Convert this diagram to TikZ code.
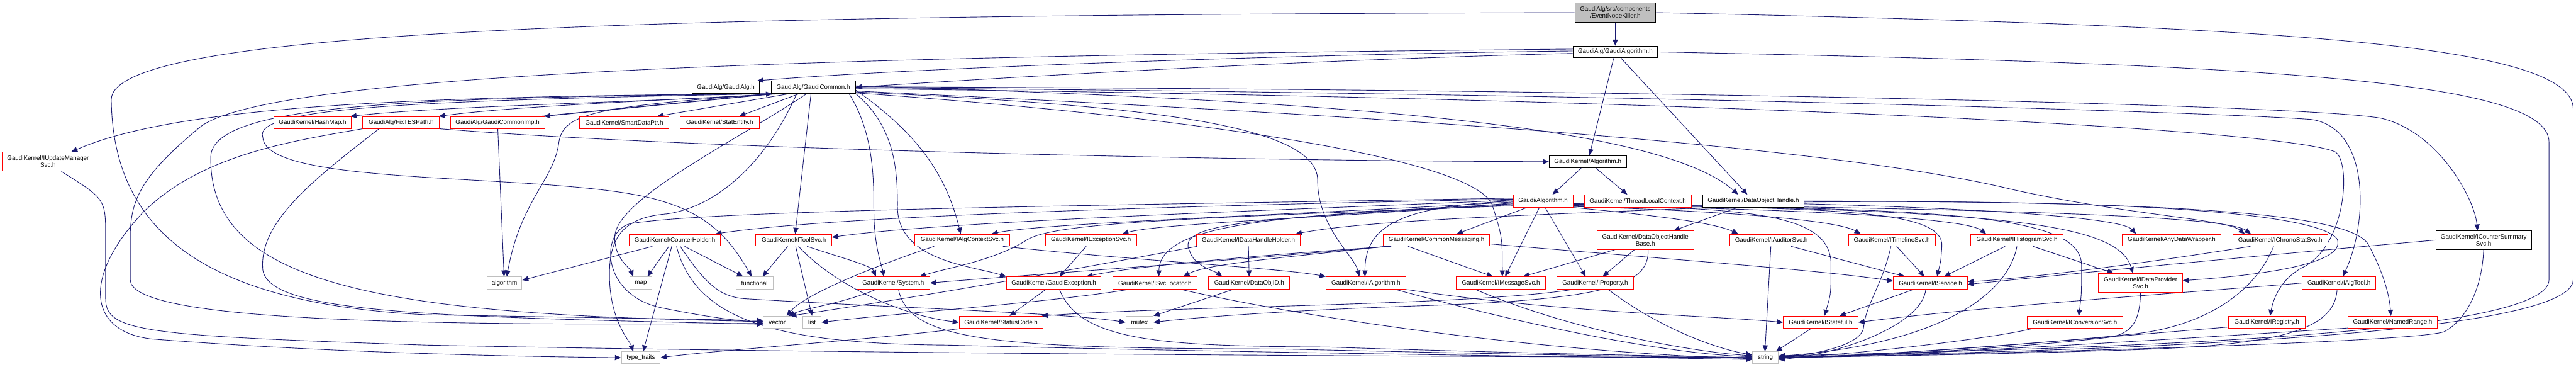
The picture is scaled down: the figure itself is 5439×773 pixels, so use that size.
\documentclass[tikz,border=0pt]{standalone}
\usepackage{fontspec}
\setmainfont{Liberation Sans}
\usetikzlibrary{arrows.meta}
\definecolor{navy}{RGB}{25,25,112}
\definecolor{boxgray}{RGB}{191,191,191}
\pgfdeclarelayer{bg}
\pgfsetlayers{bg,main}
\tikzset{
 nb/.style={draw, line width=1.3pt, fill=white, inner sep=0pt, align=center, font=\fontsize{13}{14.5}\selectfont},
 rb/.style={nb, draw=red},
 bb/.style={nb, draw=black},
 gb/.style={nb, draw=boxgray},
 edg/.style={draw=navy, line width=1.2pt, -{Triangle[length=13pt,width=11pt]}},
}
\newcommand{\bx}[7]{\node[#6, minimum width=#4pt, minimum height=#5pt] (#1) at (#2,#3) {#7};}
\begin{document}
\begin{tikzpicture}[x=1pt,y=-1pt]
\useasboundingbox (0,0) rectangle (5439,773);
\begin{pgfonlayer}{bg}
\fill[white] (0,0) rectangle (5439,773);
\end{pgfonlayer}
% nodes
\bx{enk}{3410.5}{26.5}{171}{41}{nb,fill=boxgray,draw=black}{GaudiAlg/src/components\\/EventNodeKiller.h}
\bx{galgo}{3410.5}{109.5}{179}{25}{bb}{GaudiAlg/GaudiAlgorithm.h}
\bx{galg}{1532.5}{184}{143}{26}{bb}{GaudiAlg/GaudiAlg.h}
\bx{gcommon}{1717}{184}{178}{26}{bb}{GaudiAlg/GaudiCommon.h}
\bx{updmgr}{101.5}{341}{193}{40}{rb}{GaudiKernel/IUpdateManager\\Svc.h}
\bx{hashmap}{660}{258.5}{164}{25}{rb}{GaudiKernel/HashMap.h}
\bx{fixtes}{847}{258.5}{162}{25}{rb}{GaudiAlg/FixTESPath.h}
\bx{gcimp}{1050.5}{258.5}{199}{25}{rb}{GaudiAlg/GaudiCommonImp.h}
\bx{smartdp}{1318}{258.5}{188}{25}{rb}{GaudiKernel/SmartDataPtr.h}
\bx{statent}{1519.5}{258.5}{167}{25}{rb}{GaudiKernel/StatEntity.h}
\bx{gkalgo}{3352.5}{341}{163}{26}{bb}{GaudiKernel/Algorithm.h}
\bx{ga2}{3258}{424}{126}{26}{rb}{Gaudi/Algorithm.h}
\bx{tlc}{3458}{424}{226}{26}{rb}{GaudiKernel/ThreadLocalContext.h}
\bx{doh}{3702}{424}{214}{26}{bb}{GaudiKernel/DataObjectHandle.h}
\bx{counterholder}{1425}{506.5}{192}{25}{rb}{GaudiKernel/CounterHolder.h}
\bx{itoolsvc}{1676}{506.5}{160}{25}{rb}{GaudiKernel/IToolSvc.h}
\bx{ialgctx}{2031.5}{506.5}{201}{25}{rb}{GaudiKernel/IAlgContextSvc.h}
\bx{iexcsvc}{2303.5}{506.5}{193}{25}{rb}{GaudiKernel/IExceptionSvc.h}
\bx{idhh}{2636}{506.5}{220}{25}{rb}{GaudiKernel/IDataHandleHolder.h}
\bx{commsg}{3033}{506.5}{224}{25}{rb}{GaudiKernel/CommonMessaging.h}
\bx{dohb}{3474}{506.5}{204}{39}{rb}{GaudiKernel/DataObjectHandle\\Base.h}
\bx{iaudsvc}{3740}{506.5}{176}{25}{rb}{GaudiKernel/IAuditorSvc.h}
\bx{itlsvc}{3994.5}{506.5}{183}{25}{rb}{GaudiKernel/ITimelineSvc.h}
\bx{ihistsvc}{4258.5}{506.5}{195}{25}{rb}{GaudiKernel/IHistogramSvc.h}
\bx{anydw}{4585}{506.5}{208}{25}{rb}{GaudiKernel/AnyDataWrapper.h}
\bx{ichrono}{4814.5}{506.5}{201}{25}{rb}{GaudiKernel/IChronoStatSvc.h}
\bx{icntsum}{5244}{506.5}{202}{39}{bb}{GaudiKernel/ICounterSummary\\Svc.h}
\bx{algorithm}{1065}{597}{74}{26}{gb}{algorithm}
\bx{map}{1353}{597}{46}{26}{gb}{map}
\bx{functional}{1593}{597}{78}{26}{gb}{functional}
\bx{system}{1886}{597}{154}{26}{rb}{GaudiKernel/System.h}
\bx{gexc}{2225}{597}{200}{26}{rb}{GaudiKernel/GaudiException.h}
\bx{isvcloc}{2438.5}{597}{179}{26}{rb}{GaudiKernel/ISvcLocator.h}
\bx{dataobjid}{2637.5}{597}{171}{26}{rb}{GaudiKernel/DataObjID.h}
\bx{ialgorithm}{2884}{597}{168}{26}{rb}{GaudiKernel/IAlgorithm.h}
\bx{imsgsvc}{3169}{597}{188}{26}{rb}{GaudiKernel/IMessageSvc.h}
\bx{iprop}{3368}{597}{162}{26}{rb}{GaudiKernel/IProperty.h}
\bx{iservice}{4076}{597}{156}{26}{rb}{GaudiKernel/IService.h}
\bx{idpsvc}{4519.5}{597}{177}{40}{rb}{GaudiKernel/IDataProvider\\Svc.h}
\bx{ialgtool}{4938.5}{597}{155}{26}{rb}{GaudiKernel/IAlgTool.h}
\bx{vector}{1641}{680}{58}{26}{gb}{vector}
\bx{list}{1714.5}{680}{39}{26}{gb}{list}
\bx{statuscode}{2113.5}{680}{177}{26}{rb}{GaudiKernel/StatusCode.h}
\bx{mutex}{2406}{680}{58}{26}{gb}{mutex}
\bx{istateful}{3844}{680}{158}{26}{rb}{GaudiKernel/IStateful.h}
\bx{iconvsvc}{4381}{680}{202}{26}{rb}{GaudiKernel/IConversionSvc.h}
\bx{iregistry}{4786}{680}{162}{26}{rb}{GaudiKernel/IRegistry.h}
\bx{namedrange}{5052}{680}{188}{26}{rb}{GaudiKernel/NamedRange.h}
\bx{typetraits}{1353}{754.5}{82}{25}{gb}{type\_traits}
\bx{string}{3727.5}{754.5}{55}{25}{gb}{string}
\begin{pgfonlayer}{bg}
% EventNodeKiller
\draw[edg] (enk) -- (galgo);
\draw[edg] (enk.east) .. controls (4800,55) and (5433,90) .. (5433,230) -- (5433,590) .. controls (5433,700) and (4600,738) .. ([yshift=2pt]string.east);
\draw[edg] (enk.west) .. controls (1400,32) and (235,60) .. (235,210) .. controls (238,480) and (420,640) .. (900,664) -- ([yshift=4pt]vector.west);
% GaudiAlgorithm
\draw[edg] ([yshift=2pt]galgo.west) .. controls (2700,115) and (1900,145) .. ([xshift=-6pt]galg.north east);
\draw[edg] ([yshift=-3pt]galgo.west) .. controls (2700,128) and (2100,165) .. (gcommon.east);
\draw[edg] (galgo) -- (gkalgo);
\draw[edg] (galgo) -- (doh);
\draw[edg] (galgo.east) .. controls (4800,135) and (5382,170) .. (5382,300) -- (5382,590) .. controls (5382,700) and (4600,732) .. ([yshift=4pt]string.east);
\draw[edg] ([yshift=6pt]galgo.west) .. controls (1800,118) and (560,150) .. (420,270) .. controls (300,370) and (275,420) .. (275,500) -- (275,590) .. controls (275,665) and (700,690) .. ([yshift=-2pt]vector.west);
% GaudiCommon
\draw[edg] ([xshift=22pt]gcommon.south west) .. controls (1400,215) and (950,222) .. ([xshift=-3pt]hashmap.north east);
\draw[edg] ([xshift=16pt]gcommon.south west) .. controls (1450,210) and (1100,222) .. ([xshift=-2pt]fixtes.north east);
\draw[edg] ([xshift=12pt]gcommon.south west) -- ([xshift=-2pt]gcimp.north east);
\draw[edg] ([xshift=-10pt]gcimp.north east) -- ([xshift=3pt]gcommon.south west);
\draw[edg] ([xshift=40pt]gcommon.south west) -- ([xshift=-25pt]smartdp.north east);
\draw[edg] ([xshift=60pt]gcommon.south west) -- ([xshift=-43pt]statent.north east);
\draw[edg] ([xshift=9pt]gcommon.south west) .. controls (900,203) and (380,220) .. ([xshift=49pt]updmgr.north);
\draw[edg] ([xshift=6pt]gcommon.south west) .. controls (1250,225) and (1190,240) .. (1180,300) .. controls (1170,380) and (1100,420) .. ([xshift=5pt]algorithm.north);
\draw[edg] ([xshift=76pt]gcommon.south west) .. controls (1550,300) and (1300,420) .. (1298,500) .. controls (1297,545) and (1330,565) .. ([xshift=-16pt]map.north);
\draw[edg] ([xshift=85pt]gcommon.south west) -- ([xshift=3pt]itoolsvc.north);
\draw[edg] ([xshift=55pt]gcommon.south west) .. controls (1600,380) and (1480,445) .. (1400,452) .. controls (1300,462) and (1285,520) .. (1287,590) .. controls (1290,680) and (1330,720) .. ([xshift=-16pt]typetraits.north);
\draw[edg] ([xshift=-14pt]gcommon.south east) .. controls (1845,280) and (1845,380) .. (1845,440) .. controls (1845,520) and (1862,560) .. ([xshift=-20pt]system.north);
\draw[edg] (gcommon.south east) .. controls (1894,270) and (1894,370) .. (1895,430) .. controls (1890,550) and (2050,560) .. (gexc.north west);
\draw[edg] ([yshift=-6pt]gcommon.east) .. controls (1950,290) and (2000,380) .. ([xshift=-3pt]ialgctx.north);
\draw[edg] ([yshift=3pt]gcommon.east) .. controls (2800,212) and (3500,260) .. ([xshift=-32pt]doh.north);
\draw[edg] ([yshift=1pt]gcommon.east) .. controls (3500,188) and (4900,222) .. (5030,250) .. controls (5150,280) and (5225,420) .. ([xshift=-13pt]icntsum.north);
\draw[edg] ([yshift=-1pt]gcommon.east) .. controls (3500,198) and (4700,238) .. (4880,252) .. controls (5005,270) and (5000,470) .. ([xshift=8pt]ialgtool.north);
\draw[edg] ([yshift=-3pt]gcommon.east) .. controls (3500,206) and (4800,268) .. (4930,320) .. controls (4965,340) and (4955,520) .. (4860,565) .. controls (4815,590) and (4800,630) .. ([xshift=7pt]iregistry.north);
\draw[edg] ([yshift=-8pt]gcommon.east) .. controls (2600,230) and (3800,290) .. (4250,400) .. controls (4500,455) and (4700,462) .. ([xshift=-75pt]ichrono.north);
\draw[edg] ([yshift=-10pt]gcommon.east) .. controls (2400,222) and (2782,260) .. (2782,380) .. controls (2782,480) and (2860,540) .. ([xshift=-14pt]ialgorithm.north);
\draw[edg] ([yshift=-12pt]gcommon.east) .. controls (2500,245) and (3100,330) .. (3150,430) .. controls (3172,500) .. ([xshift=3pt]imsgsvc.north);
\draw[edg] ([xshift=3pt]gcommon.south west) .. controls (900,212) and (530,225) .. (555,290) .. controls (560,400) and (1200,360) .. (1400,425) .. controls (1500,455) and (1545,510) .. ([xshift=-6pt]functional.north);
\draw[edg] ([xshift=5pt]gcommon.south west) .. controls (900,207) and (450,215) .. (445,330) .. controls (440,600) and (800,665) .. ([yshift=2pt]vector.west);
% FixTESPath
\draw[edg] (fixtes.south east) .. controls (1500,318) and (2700,340) .. (gkalgo.west);
\draw[edg] (fixtes.south west) .. controls (600,300) and (420,330) .. (300,450) .. controls (170,590) and (190,700) .. (320,715) .. controls (700,745) and (1100,752) .. (typetraits.west);
\draw[edg] ([xshift=35pt]fixtes.south west) .. controls (660,380) and (545,470) .. (555,570) .. controls (570,660) and (900,668) .. ([yshift=-4pt]vector.west);
% IUpdateManagerSvc
\draw[edg] ([xshift=28pt]updmgr.south) .. controls (223,420) .. (223,500) -- (223,630) .. controls (223,700) and (300,708) .. (900,728) .. controls (2000,750) and (3300,752) .. (string.west);
% GaudiCommonImp
\draw[edg] (gcimp) -- (algorithm);
% CounterHolder
\draw[edg] ([xshift=49pt]counterholder.south west) -- ([yshift=6pt]algorithm.east);
\draw[edg] ([xshift=84pt]counterholder.south west) -- ([xshift=14pt]map.north);
\draw[edg] ([xshift=90pt]counterholder.south west) -- ([xshift=5pt]typetraits.north);
\draw[edg] ([xshift=117pt]counterholder.south west) -- ([xshift=-24pt]functional.north);
\draw[edg] ([xshift=108pt]counterholder.south west) .. controls (1490,600) and (1520,625) .. (1570,630) .. controls (1900,650) and (2250,660) .. (mutex.west);
\draw[edg] ([xshift=100pt]counterholder.south west) .. controls (1470,680) and (1650,725) .. (2000,728) .. controls (2800,748) and (3400,752) .. ([yshift=-4pt]string.west);
% IToolSvc
\draw[edg] ([xshift=-13pt]itoolsvc.south) -- ([xshift=17pt]functional.north);
\draw[edg] ([xshift=4pt]itoolsvc.south) -- (list.north);
\draw[edg] ([xshift=10pt]itoolsvc.south) .. controls (1760,600) and (1900,665) .. (statuscode.west);
\draw[edg] ([xshift=28pt]itoolsvc.south) .. controls (1780,545) and (1840,560) .. ([xshift=41pt]system.north west);
% IAlgContextSvc
\draw[edg] ([xshift=42pt]ialgctx.south west) .. controls (1850,560) and (1700,620) .. ([xshift=20pt]vector.north);
\draw[edg] ([xshift=-15pt]ialgctx.south east) .. controls (2400,550) and (2700,565) .. (ialgorithm.north west);
% IExceptionSvc
\draw[edg] ([xshift=-10pt]iexcsvc.south) -- ([xshift=12pt]gexc.north);
% IDataHandleHolder
\draw[edg] (idhh.south) -- (dataobjid.north);
\draw[edg] ([xshift=2pt]idhh.south west) .. controls (2100,600) and (1850,640) .. ([xshift=-2pt]vector.north east);
% CommonMessaging
\draw[edg] ([xshift=-60pt]commsg.south) -- ([xshift=-17pt]imsgsvc.north);
\draw[edg] ([xshift=17pt]commsg.south west) .. controls (2700,535) and (2400,560) .. ([xshift=-32pt]gexc.north east);
\draw[edg] ([xshift=10pt]commsg.south west) .. controls (2600,550) and (2100,585) .. (system.east);
\draw[edg] ([xshift=5pt]commsg.south west) .. controls (2750,540) and (2550,555) .. ([xshift=-30pt]isvcloc.north east);
\draw[edg] ([yshift=-8pt]commsg.east) .. controls (3500,545) and (3850,570) .. ([yshift=4pt]iservice.west);
% Gaudi/Algorithm
\draw[edg] ([xshift=30pt]ga2.south west) -- ([xshift=-70pt]commsg.north east);
\draw[edg] (ga2.west) .. controls (2950,435) and (2882,480) .. ([xshift=-2pt]ialgorithm.north);
\draw[edg] ([xshift=56pt]ga2.south west) -- ([xshift=9pt]imsgsvc.north);
\draw[edg] ([xshift=68pt]ga2.south west) -- ([xshift=-20pt]iprop.north);
\draw[edg] (ga2.south east) .. controls (3500,455) and (3620,470) .. ([xshift=-70pt]iaudsvc.north);
\draw[edg] ([yshift=2pt]ga2.south east) .. controls (3650,445) and (3880,465) .. ([xshift=-66pt]itlsvc.north);
\draw[edg] ([yshift=4pt]ga2.south east) .. controls (3800,440) and (4150,460) .. ([xshift=-65pt]ihistsvc.north);
\draw[edg] ([yshift=5pt]ga2.south east) .. controls (3900,438) and (4105,445) .. (4100,520) .. controls (4098,550) .. ([xshift=14pt]iservice.north);
\draw[edg] ([yshift=6pt]ga2.south east) .. controls (3700,440) and (3868,450) .. (3866,560) .. controls (3866,620) .. ([xshift=8pt]istateful.north);
\draw[edg] ([yshift=7pt]ga2.south east) .. controls (4100,440) and (4395,450) .. (4395,560) .. controls (4395,620) .. ([xshift=8pt]iconvsvc.north);
\draw[edg] ([yshift=8pt]ga2.south east) .. controls (4200,440) and (4700,455) .. ([xshift=-62pt]ichrono.north);
\draw[edg] ([yshift=9pt]ga2.south east) .. controls (4200,445) and (4470,465) .. ([xshift=-16pt]idpsvc.north);
\draw[edg] ([yshift=2pt]ga2.west) .. controls (2800,440) and (2000,465) .. ([yshift=6pt]itoolsvc.east);
\draw[edg] ([yshift=4pt]ga2.west) .. controls (2700,430) and (1800,450) .. ([xshift=-11pt]counterholder.north east);
\draw[edg] ([yshift=-2pt]ga2.west) .. controls (2800,450) and (2200,470) .. ([xshift=-39pt]ialgctx.north east);
\draw[edg] ([yshift=-4pt]ga2.west) .. controls (2900,455) and (2450,470) .. ([xshift=-31pt]iexcsvc.north east);
\draw[edg] ([yshift=-6pt]ga2.west) .. controls (2700,455) and (2450,470) .. ([xshift=8pt]isvcloc.north);
\draw[edg] ([yshift=-8pt]ga2.west) .. controls (2650,460) and (2480,470) .. (2512,530) .. controls (2520,560) and (2570,575) .. ([xshift=-57pt]dataobjid.north);
\draw[edg] ([yshift=-10pt]ga2.west) .. controls (2500,460) and (2230,470) .. (2170,505) .. controls (2100,550) and (2000,565) .. ([xshift=-22pt]system.north east);
\draw[edg] ([yshift=6pt]ga2.west) .. controls (2400,432) and (1500,442) .. (1330,472) .. controls (1265,490) and (1270,625) .. (1400,650) .. controls (1500,670) and (1560,677) .. (vector.west);
% DataObjID, ISvcLocator, GaudiException, System, StatusCode
\draw[edg] ([xshift=52pt]dataobjid.south west) -- (mutex.north east);
\draw[edg] ([xshift=35pt]isvcloc.south west) .. controls (2200,640) and (1900,660) .. (list.east);
\draw[edg] ([xshift=-35pt]isvcloc.south east) .. controls (2800,680) and (3300,745) .. ([yshift=-2pt]string.west);
\draw[edg] ([xshift=-17pt]gexc.south) -- ([xshift=18pt]statuscode.north);
\draw[edg] ([xshift=12pt]gexc.south) .. controls (2280,720) and (2450,730) .. (2800,732) .. controls (3300,748) and (3600,752) .. (string.west);
\draw[edg] ([xshift=11pt]system.south) .. controls (1920,720) and (2100,735) .. (2700,736) .. controls (3300,750) and (3600,754) .. (string.west);
\draw[edg] ([xshift=41pt]system.south west) .. controls (1780,640) and (1700,650) .. ([xshift=-6pt]vector.north east);
\draw[edg] (statuscode.south west) .. controls (1800,720) and (1500,740) .. (typetraits.east);
% IAlgorithm, IMessageSvc, IProperty
\draw[edg] ([xshift=-22pt]ialgorithm.south east) .. controls (3200,680) and (3500,745) .. ([yshift=2pt]string.west);
\draw[edg] (ialgorithm.south east) .. controls (3300,660) and (3600,665) .. (istateful.west);
\draw[edg] ([xshift=41pt]imsgsvc.south west) .. controls (3300,690) and (3550,740) .. ([yshift=4pt]string.west);
\draw[edg] ([xshift=-54pt]iprop.south east) .. controls (3500,690) and (3620,735) .. ([yshift=6pt]string.west);
\draw[edg] ([xshift=35pt]iprop.south west) .. controls (3100,645) and (2500,645) .. ([xshift=-3pt]statuscode.north east);
% DataObjectHandleBase
\draw[edg] ([xshift=-64pt]dohb.south) -- ([xshift=47pt]imsgsvc.north);
\draw[edg] ([xshift=-23pt]dohb.south) -- ([xshift=16pt]iprop.north);
\draw[edg] ([xshift=6pt]dohb.south) .. controls (3482,600) and (3400,632) .. (3000,645) .. controls (2700,655) and (2500,672) .. (mutex.east);
% services row
\draw[edg] ([xshift=42pt]iaudsvc.south) -- ([xshift=-54pt]iservice.north);
\draw[edg] ([xshift=-1pt]iaudsvc.south) -- ([xshift=-1pt]string.north);
\draw[edg] ([xshift=10pt]itlsvc.south) -- ([xshift=-13pt]iservice.north);
\draw[edg] ([xshift=-2pt]itlsvc.south) .. controls (3975,600) and (3940,640) .. (3935,690) .. controls (3930,735) and (3800,750) .. ([yshift=-2pt]string.east);
\draw[edg] ([xshift=-25pt]ihistsvc.south) -- ([xshift=29pt]iservice.north);
\draw[edg] ([xshift=34pt]ihistsvc.south) -- ([xshift=-57pt]idpsvc.north);
\draw[edg] (ihistsvc.south) .. controls (4240,620) and (4100,725) .. ([yshift=3pt]string.east);
\draw[edg] ([xshift=-36pt]iservice.south) -- ([xshift=40pt]istateful.north);
\draw[edg] ([xshift=-10pt]iservice.south) .. controls (4060,680) and (3900,745) .. ([yshift=-4pt]string.east);
\draw[edg] ([xshift=-21pt]istateful.south) -- ([xshift=22pt]string.north);
\draw[edg] ([xshift=-63pt]ichrono.south) .. controls (4500,560) and (4250,590) .. ([yshift=3pt]iservice.east);
\draw[edg] ([xshift=-14pt]ichrono.south) .. controls (4760,620) and (4650,690) .. (4500,705) .. controls (4200,735) and (3900,752) .. (string.east);
\draw[edg] (icntsum.west) .. controls (4700,545) and (4300,585) .. ([yshift=-3pt]iservice.east);
\draw[edg] (icntsum.south) .. controls (5240,620) and (5200,680) .. (5160,700) .. controls (5100,720) and (4400,742) .. (string.east);
\draw[edg] (ialgtool.west) .. controls (4650,615) and (4200,645) .. (istateful.east);
\draw[edg] ([xshift=-4pt]ialgtool.south) .. controls (4930,700) and (4800,728) .. (4500,738) .. controls (4200,748) and (3900,752) .. (string.east);
\draw[edg] (idpsvc.south) .. controls (4518,680) and (4500,705) .. (4450,712) .. controls (4200,740) and (3900,752) .. (string.east);
\draw[edg] ([yshift=-10pt]iregistry.west) .. controls (4400,715) and (4000,750) .. (string.east);
\draw[edg] ([yshift=-12pt]namedrange.west) .. controls (4600,715) and (4000,752) .. (string.east);
\draw[edg] ([xshift=10pt]iconvsvc.south west) .. controls (4200,715) and (3900,750) .. (string.east);
% DataObjectHandle
\draw[edg] ([xshift=75pt]doh.south west) -- ([xshift=-43pt]dohb.north east);
\draw[edg] ([xshift=15pt]doh.south west) .. controls (3300,452) and (2900,462) .. ([xshift=-11pt]idhh.north east);
\draw[edg] ([yshift=-6pt]doh.east) .. controls (4200,440) and (4480,460) .. ([xshift=-75pt]anydw.north);
\draw[edg] ([yshift=-2pt]doh.east) .. controls (4500,420) and (4900,450) .. (4935,505) .. controls (4955,560) and (4750,582) .. ([yshift=5pt]idpsvc.east);
\draw[edg] (doh.east) .. controls (4600,425) and (4960,450) .. (5000,515) .. controls (5030,570) and (5045,620) .. ([xshift=-4pt]namedrange.north);
% GaudiKernel/Algorithm
\draw[edg] ([xshift=-14pt]gkalgo.south) -- ([xshift=20pt]ga2.north);
\draw[edg] ([xshift=17pt]gkalgo.south) -- ([xshift=-22pt]tlc.north);
\end{pgfonlayer}
\end{tikzpicture}
\end{document}
